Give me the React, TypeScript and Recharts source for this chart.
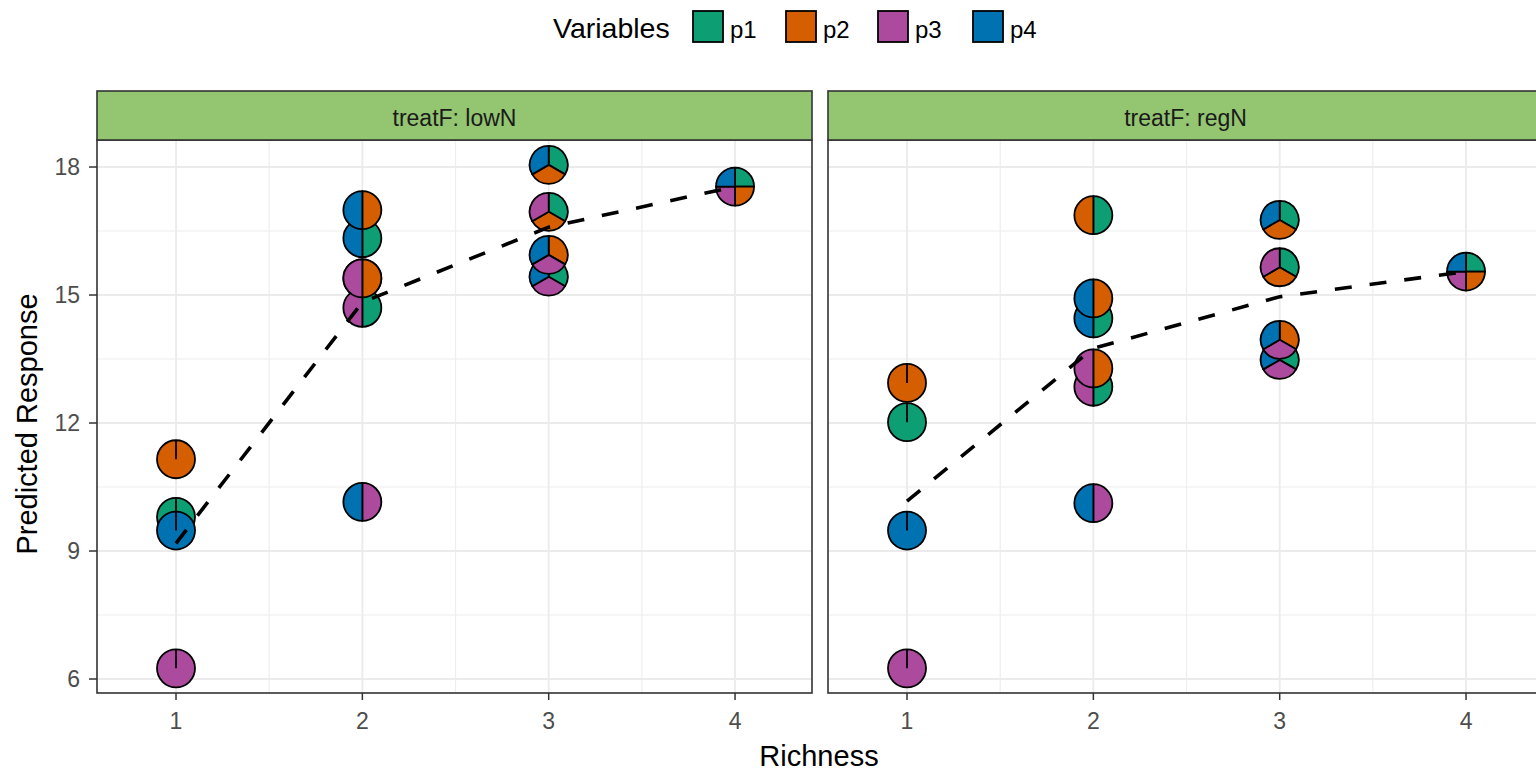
import React from "react";
import {
  ScatterChart,
  Scatter,
  XAxis,
  YAxis,
  ReferenceLine,
} from "recharts";

// variables and their fill colours
const variables = ["p1", "p2", "p3", "p4"];
const variableColors = ["#0E9E74", "#D55E00", "#AC4B9E", "#0072B2"];

// every combination of variables, in drawing order
const combos = [
  "p1", "p2", "p3", "p4",
  "p1+p2", "p1+p3", "p1+p4", "p2+p3", "p2+p4", "p3+p4",
  "p1+p2+p3", "p1+p2+p4", "p1+p3+p4", "p2+p3+p4",
  "p1+p2+p3+p4",
];
const comboRichness = [1, 1, 1, 1, 2, 2, 2, 2, 2, 2, 3, 3, 3, 3, 4];

// predicted response per combination
const lowNResponse = [9.8, 11.15, 6.25, 9.48, 15.39, 14.7, 16.33, 15.39, 16.99, 10.15, 16.95, 18.05, 15.43, 15.94, 17.54];
const regNResponse = [12.02, 12.94, 6.25, 9.48, 16.87, 12.85, 14.45, 13.28, 14.92, 10.12, 15.65, 16.76, 13.48, 13.95, 15.55];

// mean response per richness level (dashed line)
const richnessLevels = [1, 2, 3, 4];
const lowNMean = [9.18, 14.83, 16.59, 17.54];
const regNMean = [10.17, 13.75, 14.96, 15.55];

const xTicks = [1, 2, 3, 4];
const xMinor = [1.5, 2.5, 3.5];
const yTicks = [6, 9, 12, 15, 18];
const yMinor = [7.5, 10.5, 13.5, 16.5];

const X_DOMAIN: [number, number] = [0.576, 4.413];
const Y_DOMAIN: [number, number] = [5.672, 18.633];

const PIE_R = 19;
const FONT = '"Liberation Sans", Arial, Helvetica, sans-serif';

const pointsFor = (response: number[]) =>
  combos.map((c, i) => ({
    richness: comboRichness[i],
    response: response[i],
    vars: c.split("+"),
  }));

const meanFor = (means: number[]) =>
  richnessLevels.map((r, i) => ({ richness: r, response: means[i] }));

const colorOf = (v: string) => variableColors[variables.indexOf(v)];

function PieMarker(props: any) {
  const { cx, cy, payload } = props;
  if (cx == null || cy == null) return <g />;
  const vars: string[] = payload.vars;
  if (vars.length === 1) {
    return (
      <g>
        <circle cx={cx} cy={cy} r={PIE_R} fill={colorOf(vars[0])} stroke="#000" strokeWidth={1.8} />
        <line x1={cx} y1={cy} x2={cx} y2={cy - PIE_R} stroke="#000" strokeWidth={1.8} />
      </g>
    );
  }
  const step = (2 * Math.PI) / vars.length;
  return (
    <g>
      {vars.map((v, i) => {
        const a0 = i * step;
        const a1 = (i + 1) * step;
        const x0 = cx + PIE_R * Math.sin(a0);
        const y0 = cy - PIE_R * Math.cos(a0);
        const x1 = cx + PIE_R * Math.sin(a1);
        const y1 = cy - PIE_R * Math.cos(a1);
        const d = `M${cx},${cy} L${x0},${y0} A${PIE_R},${PIE_R} 0 0 1 ${x1},${y1} Z`;
        return <path key={v} d={d} fill={colorOf(v)} stroke="#000" strokeWidth={1.8} strokeLinejoin="round" />;
      })}
    </g>
  );
}

function Panel({ response, means, showY }: { response: number[]; means: number[]; showY: boolean }) {
  const width = showY ? 813 : 716;
  return (
    <ScatterChart width={width} height={633} margin={{ top: 0, right: 1, bottom: 0, left: 0 }}>
      <XAxis
        dataKey="richness"
        type="number"
        domain={X_DOMAIN}
        ticks={xTicks}
        allowDataOverflow
        height={80}
        axisLine={false}
        tickSize={7}
        tickMargin={13}
        tickLine={{ stroke: "#333333", strokeWidth: 1.5 }}
        tick={{ fontSize: 23, fill: "#4D4D4D", fontFamily: FONT }}
      />
      <YAxis
        dataKey="response"
        type="number"
        domain={Y_DOMAIN}
        ticks={yTicks}
        allowDataOverflow
        hide={!showY}
        width={97}
        axisLine={false}
        tickSize={8}
        tickMargin={9}
        tickLine={{ stroke: "#333333", strokeWidth: 1.5 }}
        tick={{ fontSize: 23, fill: "#4D4D4D", fontFamily: FONT }}
      />
      {yMinor.map((v) => (
        <ReferenceLine key={`ym${v}`} y={v} stroke="#EEEEEE" strokeWidth={1.2} />
      ))}
      {xMinor.map((v) => (
        <ReferenceLine key={`xm${v}`} x={v} stroke="#EEEEEE" strokeWidth={1.2} />
      ))}
      {yTicks.map((v) => (
        <ReferenceLine key={`y${v}`} y={v} stroke="#EBEBEB" strokeWidth={1.8} />
      ))}
      {xTicks.map((v) => (
        <ReferenceLine key={`x${v}`} x={v} stroke="#EBEBEB" strokeWidth={1.8} />
      ))}
      <Scatter data={pointsFor(response)} shape={PieMarker} isAnimationActive={false} />
      <Scatter
        data={meanFor(means)}
        shape={() => <g />}
        line={{ stroke: "#000", strokeWidth: 3.6, strokeDasharray: "17 18" }}
        fill="#000"
        isAnimationActive={false}
      />
    </ScatterChart>
  );
}

const legendItems = [
  { label: "p1", x: 693 },
  { label: "p2", x: 786 },
  { label: "p3", x: 878 },
  { label: "p4", x: 973 },
];

export default function App() {
  return (
    <div
      style={{
        position: "absolute",
        left: 0,
        top: 0,
        width: 1536,
        height: 773,
        overflow: "hidden",
        background: "#fff",
        fontFamily: FONT,
      }}
    >
      <div style={{ position: "absolute", left: 0, top: 140 }}>
        <Panel response={lowNResponse} means={lowNMean} showY />
      </div>
      <div style={{ position: "absolute", left: 828, top: 140 }}>
        <Panel response={regNResponse} means={regNMean} showY={false} />
      </div>
      <svg
        width={1536}
        height={773}
        style={{ position: "absolute", left: 0, top: 0, pointerEvents: "none" }}
      >
        {/* panel frames and facet strips */}
        {[97, 828].map((x, i) => (
          <g key={x}>
            <rect x={x} y={140} width={715} height={553} fill="none" stroke="#333333" strokeWidth={1.6} />
            <rect x={x} y={91} width={715} height={49} fill="#94C571" stroke="#333333" strokeWidth={1.6} />
            <text x={x + 357.5} y={126} textAnchor="middle" fontSize={23} fill="#1A1A1A">
              {i === 0 ? "treatF: lowN" : "treatF: regN"}
            </text>
          </g>
        ))}

        {/* legend */}
        <text x={553} y={38} fontSize={28.5} fill="#000">Variables</text>
        {legendItems.map((it, i) => (
          <g key={it.label}>
            <rect x={it.x} y={11} width={30} height={31} fill={variableColors[i]} stroke="#000" strokeWidth={1.8} />
            <text x={it.x + 37} y={38} fontSize={24} fill="#000">{it.label}</text>
          </g>
        ))}

        {/* axis titles */}
        <text x={819} y={766} textAnchor="middle" fontSize={29} fill="#000">Richness</text>
        <text x={37} y={424} textAnchor="middle" fontSize={29} fill="#000" transform="rotate(-90 37 424)">
          Predicted Response
        </text>
      </svg>
    </div>
  );
}
